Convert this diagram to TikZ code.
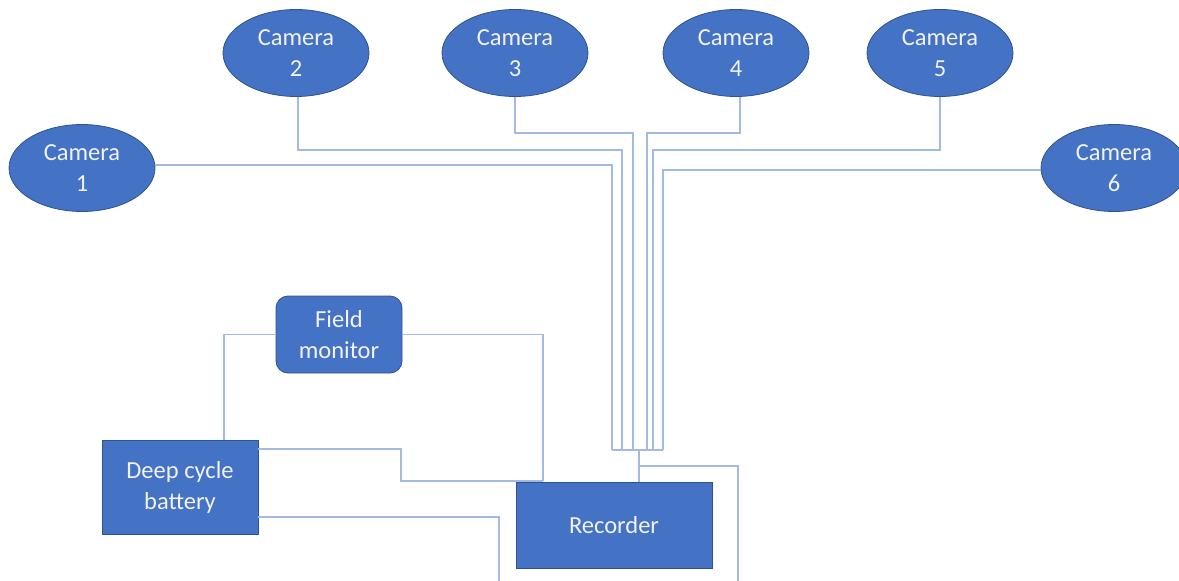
\documentclass[tikz,border=0pt]{standalone}
\usepackage{fontspec}
\setmainfont{Carlito}
\usetikzlibrary{shapes.geometric}
\definecolor{boxfill}{HTML}{4472C4}
\definecolor{boxline}{HTML}{2F528F}
\definecolor{wire}{HTML}{A3BBE3}
\definecolor{txt}{HTML}{F2F2F2}
\tikzset{
  cam/.style={ellipse, fill=boxfill, draw=boxline, line width=0.8pt, minimum width=146pt, minimum height=87pt, inner sep=0pt, text=txt, align=center, font=\fontsize{24.5}{31}\selectfont},
  blk/.style={rectangle, fill=boxfill, draw=boxline, line width=0.8pt, inner sep=0pt, text=txt, align=center, font=\fontsize{24.5}{31}\selectfont},
  wireline/.style={draw=wire, line width=1.1pt}
}
\begin{document}
\begin{tikzpicture}[x=1pt,y=-1pt]
\useasboundingbox (0,0) rectangle (1179,581);
\coordinate (b1) at (612,450);
\coordinate (b2) at (622,450);
\coordinate (b3) at (633,450);
\coordinate (b4) at (647,450);
\coordinate (b5) at (653,450);
\coordinate (b6) at (663,450);
\coordinate (hub) at (639,450);
\coordinate (tap) at (639,466);
\coordinate (out) at (738,581);
\coordinate (batout) at (499,581);

\node[cam] (c1) at (82,168) {Camera\\1};
\node[cam] (c2) at (296,53) {Camera\\2};
\node[cam] (c3) at (515,53) {Camera\\3};
\node[cam] (c4) at (736,53) {Camera\\4};
\node[cam] (c5) at (940,53) {Camera\\5};
\node[cam] (c6) at (1114,168) {Camera\\6};

\node[blk, rounded corners=12pt, minimum width=126pt, minimum height=77pt] (fm) at (339,334.5) {Field\\monitor};
\node[blk, minimum width=156pt, minimum height=94pt] (bat) at (180,487) {Deep cycle\\battery};
\node[blk, minimum width=196pt, minimum height=86pt] (rec) at (614,525) {Recorder};

\draw[wireline] ([yshift=3pt]c1.east) -| (b1);
\draw[wireline] ([xshift=2pt]c2.south) |- (622,150) -- (b2);
\draw[wireline] (c3.south) |- (633,133) -- (b3);
\draw[wireline] ([xshift=4pt]c4.south) |- (647,133) -- (b4);
\draw[wireline] (c5.south) |- (653,150) -- (b5);
\draw[wireline] ([yshift=-2pt]c6.west) -| (b6);
\draw[wireline] (b1) -- (b6);
\draw[wireline] (hub) -- (hub |- rec.north);
\draw[wireline] (tap) -| (out);
\draw[wireline] (fm.west) -| (bat.north -| 224,0);
\draw[wireline] (fm.east) -| (543,481);
\draw[wireline] (bat.east |- 0,449) -| (401,481) -- (543,481);
\draw[wireline] (bat.east |- 0,517) -| (batout);
\end{tikzpicture}
\end{document}
